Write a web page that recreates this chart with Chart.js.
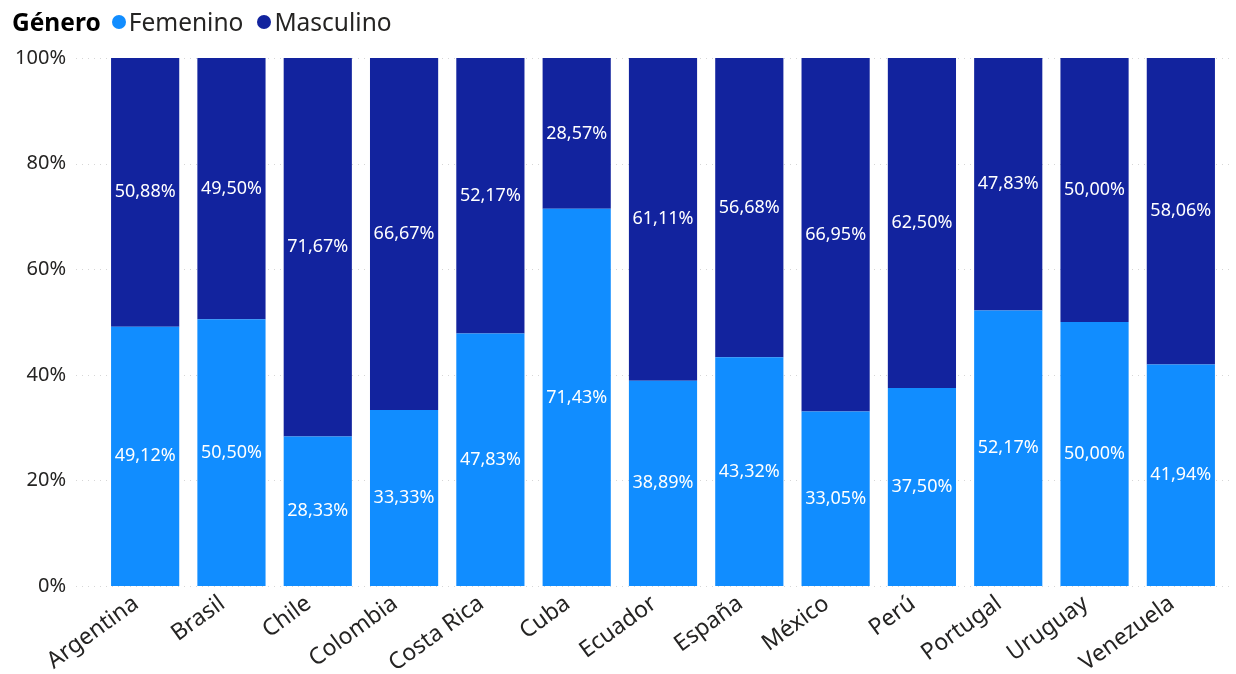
<!DOCTYPE html>
<html>
<head>
<meta charset="utf-8">
<script src="https://cdn.jsdelivr.net/npm/chart.js@4/dist/chart.umd.min.js"></script>
<style>
  html,body{margin:0;padding:0;background:#fff;}
  #wrap{position:relative;width:1236px;height:674px;}
  #legend{position:absolute;left:12px;top:5px;font-family:"Segoe UI","Noto Sans","Open Sans",sans-serif;font-size:24.5px;color:#252423;display:flex;align-items:center;white-space:nowrap;}
  #legend b{color:#000;font-weight:700;margin-right:11px;}
  .dot{display:inline-block;width:14px;height:14px;border-radius:50%;margin-right:3px;}
  .item{display:inline-flex;align-items:center;margin-right:14px;}
</style>
</head>
<body>
<div id="wrap">
  <canvas id="c" width="1236" height="674"></canvas>
  <div id="legend"></div>
</div>
<script>
const categories = ["Argentina","Brasil","Chile","Colombia","Costa Rica","Cuba","Ecuador","España","México","Perú","Portugal","Uruguay","Venezuela"];
const seriesNames = ["Femenino","Masculino"];
const femenino = [49.12,50.50,28.33,33.33,47.83,71.43,38.89,43.32,33.05,37.50,52.17,50.00,41.94];
const masculino = [50.88,49.50,71.67,66.67,52.17,28.57,61.11,56.68,66.95,62.50,47.83,50.00,58.06];
const yTicks = [0,20,40,60,80,100];
const colors = ["#118DFF","#12239E"];
const legendTitle = "Género";

const uiFont = '"Segoe UI","Noto Sans","Open Sans",sans-serif';

// HTML legend
const lg = document.getElementById('legend');
lg.innerHTML = '<b>'+legendTitle+'</b>' + seriesNames.map((n,i)=>
  '<span class="item"><span class="dot" style="background:'+colors[i]+'"></span>'+n+'</span>').join('');

const gridPlugin = {
  id:'dottedGrid',
  beforeDatasetsDraw(chart){
    const ctx = chart.ctx, y = chart.scales.y;
    ctx.save();
    ctx.strokeStyle = '#d6d6d6';
    ctx.lineWidth = 1;
    ctx.setLineDash([1,5]);
    yTicks.forEach(v=>{
      const py = Math.round(y.getPixelForValue(v))+0.5;
      ctx.beginPath();
      ctx.moveTo(76,py);
      ctx.lineTo(1232,py);
      ctx.stroke();
    });
    ctx.restore();
  }
};

const labelPlugin = {
  id:'barLabels',
  afterDatasetsDraw(chart){
    const ctx = chart.ctx;
    ctx.save();
    ctx.fillStyle = '#ffffff';
    ctx.font = '18px '+uiFont;
    ctx.textAlign = 'center';
    ctx.textBaseline = 'middle';
    chart.data.datasets.forEach((ds,di)=>{
      const meta = chart.getDatasetMeta(di);
      meta.data.forEach((bar,i)=>{
        const v = ds.data[i];
        const yc = (bar.y + bar.base)/2;
        ctx.fillText(v.toFixed(2).replace('.',',')+'%', bar.x, yc);
      });
    });
    ctx.restore();
  }
};

new Chart(document.getElementById('c'),{
  type:'bar',
  data:{
    labels:categories,
    datasets:[
      {label:seriesNames[0],data:femenino,backgroundColor:colors[0],borderWidth:0,categoryPercentage:1,barPercentage:0.79},
      {label:seriesNames[1],data:masculino,backgroundColor:colors[1],borderWidth:0,categoryPercentage:1,barPercentage:0.79}
    ]
  },
  options:{
    responsive:false,
    animation:false,
    layout:{padding:{top:58,right:12,left:0,bottom:0}},
    plugins:{legend:{display:false},tooltip:{enabled:false}},
    scales:{
      x:{
        stacked:true,
        grid:{display:false,drawTicks:false},
        border:{display:false},
        ticks:{color:'#252423',font:{size:23,family:uiFont},minRotation:36,maxRotation:36,padding:4,labelOffset:-9},
        afterFit(s){s.height=88;}
      },
      y:{
        stacked:true,
        min:0,max:100,
        grid:{display:false,drawTicks:false},
        border:{display:false},
        afterBuildTicks(s){s.ticks = yTicks.map(v=>({value:v}));},
        ticks:{color:'#252423',font:{size:20,family:uiFont},padding:36,callback:v=>v+'%'},
        afterFit(s){s.width=102;}
      }
    }
  },
  plugins:[gridPlugin,labelPlugin]
});
</script>
</body>
</html>
